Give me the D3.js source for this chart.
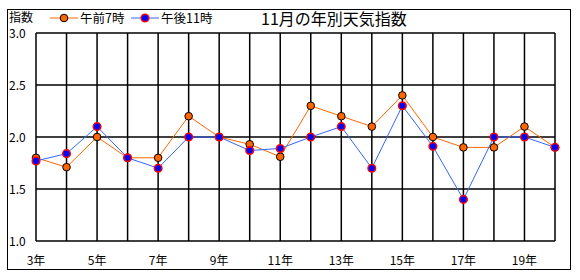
<!DOCTYPE html>
<html><head><meta charset="utf-8">
<script src="https://cdn.jsdelivr.net/npm/d3@7"></script>
<style>
body{margin:0;background:#fff;}
text{font-family:"Noto Sans CJK JP","DejaVu Sans",sans-serif;}
</style></head>
<body>
<svg id="c" width="580" height="280"></svg>
<script>
const years = [3,4,5,6,7,8,9,10,11,12,13,14,15,16,17,18,19,20];
const morning = [1.8,1.71,2.0,1.8,1.8,2.2,2.0,1.93,1.81,2.3,2.2,2.1,2.4,2.0,1.9,1.9,2.1,1.9];
const night = [1.77,1.84,2.1,1.8,1.7,2.0,2.0,1.87,1.89,2.0,2.1,1.7,2.3,1.91,1.4,2.0,2.0,1.9];
const yTicks = [1.0,1.5,2.0,2.5,3.0];
const seriesNames = ["午前7時","午後11時"];
const title = "11月の年別天気指数";
const yTitle = "指数";

const svg = d3.select("#c");
svg.append("rect").attr("x",7.5).attr("y",9.5).attr("width",563).attr("height",260)
  .attr("fill","#fff").attr("stroke","#000").attr("stroke-width",1);

const x = d3.scalePoint().domain(years).range([36,555]);
const y = d3.scaleLinear().domain([1,3]).range([241,33]);

// grid
const g = svg.append("g");
g.selectAll("line.v").data(years).join("line")
  .attr("x1",d=>x(d)).attr("x2",d=>x(d)).attr("y1",y(1)).attr("y2",y(3))
  .attr("stroke","#000").attr("stroke-width",1.5);
g.selectAll("line.h").data(yTicks).join("line")
  .attr("x1",x(3)).attr("x2",x(20)).attr("y1",d=>y(d)).attr("y2",d=>y(d))
  .attr("stroke","#000").attr("stroke-width",1.5);

// y labels
svg.selectAll("text.yl").data(yTicks).join("text")
  .attr("x",9).attr("y",d=>y(d)+5).attr("font-size",12).text(d=>d.toFixed(1));
// x labels
svg.selectAll("text.xl").data(years.filter(d=>d%2===1)).join("text")
  .attr("x",d=>x(d)).attr("y",265).attr("text-anchor","middle").attr("font-size",12)
  .text(d=>d+"年");

const line = d3.line().x((d,i)=>x(years[i])).y(d=>y(d));
svg.append("path").datum(morning).attr("d",line).attr("fill","none").attr("stroke","#FF6600").attr("stroke-width",1);
svg.append("path").datum(night).attr("d",line).attr("fill","none").attr("stroke","#3366FF").attr("stroke-width",1);

svg.selectAll("circle.m").data(morning).join("circle")
  .attr("cx",(d,i)=>x(years[i])).attr("cy",d=>y(d)).attr("r",3.8)
  .attr("fill","#FF6600").attr("stroke","#000").attr("stroke-width",1);
svg.selectAll("circle.n").data(night).join("circle")
  .attr("cx",(d,i)=>x(years[i])).attr("cy",d=>y(d)).attr("r",3.8)
  .attr("fill","#0000FF").attr("stroke","#FF0000").attr("stroke-width",1.5);

// titles
svg.append("text").attr("x",9).attr("y",22).attr("font-size",12).text(yTitle);
svg.append("text").attr("x",334).attr("y",25).attr("text-anchor","middle").attr("font-size",16).text(title);

// legend
const leg = [{name:seriesNames[0],x:50,c:"#FF6600",f:"#FF6600",s:"#000",sw:1},
             {name:seriesNames[1],x:131,c:"#3366FF",f:"#0000FF",s:"#FF0000",sw:1.5}];
leg.forEach(l=>{
  svg.append("line").attr("x1",l.x).attr("x2",l.x+28).attr("y1",18).attr("y2",18).attr("stroke",l.c).attr("stroke-width",1);
  svg.append("circle").attr("cx",l.x+14).attr("cy",18).attr("r",3.8).attr("fill",l.f).attr("stroke",l.s).attr("stroke-width",l.sw);
  svg.append("text").attr("x",l.x+30).attr("y",23).attr("font-size",12.5).text(l.name);
});
</script>
</body></html>
